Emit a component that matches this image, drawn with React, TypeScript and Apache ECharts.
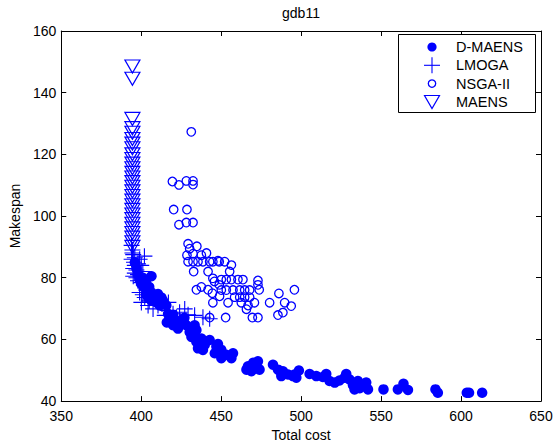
import React, { useEffect, useRef } from "react";
import * as echarts from "echarts";

const FONT = '"Liberation Sans", Arial, Helvetica, sans-serif';
const BLUE = "#0000ff";

const xTicks = [350, 400, 450, 500, 550, 600, 650];
const yTicks = [40, 60, 80, 100, 120, 140, 160];

const seriesNames = ["D-MAENS", "LMOGA", "NSGA-II", "MAENS"];

// D-MAENS: [total cost, makespan]
const dMaens: [number, number][] = [
  [396, 85], [397, 83], [398, 81], [399, 79.5], [400, 78],
  [406.4, 80.5],
  [401, 80], [403, 78.4], [402, 76.8], [404, 76.3], [406.4, 75.2], [403, 74.7],
  [408.4, 74.2], [410.5, 74.7], [412.6, 73.6], [406.4, 72.6], [409.5, 72], [413.6, 72.6],
  [415.7, 71], [411.6, 71], [404.3, 73.6], [401, 77.5], [405, 77], [407, 73],
  [416.8, 68.3], [418.9, 66.7], [416, 65.5], [422, 65.6], [425.1, 66.2], [423, 63.5],
  [428.2, 64.6], [430.3, 62.4], [433.4, 64.6], [434.5, 63], [419.9, 64.6], [420, 68], [427, 67],
  [431.4, 60.8], [434.5, 59.2], [437.6, 60.3], [435.5, 57.1], [439.7, 58.2], [442.8, 59.8],
  [438.6, 56.6], [433, 61.5],
  [447, 57.7], [450.1, 56.6], [446, 55.5], [453.2, 55], [456.4, 53.9], [457.4, 55.5],
  [450.1, 53.9], [448, 58.5],
  [466.8, 51.3], [470, 52.4], [473, 52.9], [468.9, 49.7], [474, 50.2], [465.8, 50.2], [471, 50.5],
  [482.4, 51.8], [485.5, 50.2], [488.6, 49.7], [491.8, 48.6], [494.9, 48.1], [487.6, 48.1],
  [487.6, 49.2], [495.9, 48.6], [498.6, 49.9], [497, 47.6],
  [505.3, 48.8], [509.5, 48.1], [513.6, 47.8], [515.7, 48.8], [517.8, 46.5], [521, 46],
  [524, 46.7], [527.2, 47.6], [528.2, 48.8], [530.3, 47],
  [532.4, 45.2], [535.5, 46.5], [536.6, 44.2], [539.7, 44.9], [541.8, 43.8], [540.7, 46], [533.4, 43.8],
  [551.5, 43.8], [560.5, 43.8], [564, 45.6], [566.8, 43.6], [584, 43.8], [585.5, 42.7],
  [603.6, 42.7], [605, 42.7], [613.2, 42.7],
];

// LMOGA
const lmoga: [number, number][] = [
  [394, 90.5], [394.5, 89], [395, 87.5], [394, 86], [395.5, 85], [396, 84], [395, 83],
  [397, 82.5], [396, 81.5], [398, 81], [397, 80], [399, 86], [400, 84], [398, 79], [401, 82], [402, 87],
  [394.5, 88], [396, 86.5], [398, 84.5], [395, 80.5],
  [400, 78.4], [399, 75.2], [402.2, 73.6], [400.1, 72], [404.3, 71], [407.4, 69.9], [410.5, 71],
  [403, 76], [406, 74], [417, 72], [413, 71.5], [401, 74.5], [405, 72.5],
  [416.8, 69.4], [419.9, 68.3], [424, 68.8], [427.2, 69.9], [429.3, 68], [433.4, 67.8],
  [438.6, 67.2], [442.8, 66.7], [422, 67.2], [414.7, 67.8],
];

// NSGA-II
const nsga2: [number, number][] = [
  [431.3, 127.3], [419.5, 111.2], [423.6, 110.1], [428.2, 111.4], [432.4, 111.4], [432.4, 110.2],
  [420.3, 102.1], [428.6, 102.1],
  [423.6, 97.2], [428.2, 97.9], [432.4, 97.9],
  [429.3, 91], [430.3, 89.4], [434.8, 90.2],
  [428.6, 87.3], [432.4, 87.8], [437.6, 87.3], [440.8, 88],
  [429.3, 85.2], [432.4, 85.2], [435.5, 85.2], [438.6, 85.2], [442.8, 85.2], [444.8, 85.2],
  [448.8, 85.2], [452.2, 85.2], [456.4, 84.1], [448, 85.5],
  [432.8, 82], [441.8, 82], [455.3, 82],
  [444.8, 79.8], [445.8, 78.8],
  [450.1, 79.4], [453.2, 79.4], [456.4, 79.4], [460.5, 79.4], [463.6, 79.4],
  [448.8, 77.7],
  [473, 79.1], [473, 77.7], [473.8, 76.1],
  [434.5, 76.1], [437.6, 77], [441.8, 76.1], [444.5, 75],
  [450.1, 76], [453.2, 76], [457.4, 76], [461.6, 76], [464.7, 76], [467.8, 76],
  [449, 74],
  [458.4, 73.7], [461.6, 73.7], [464.7, 73.7], [467.8, 73.7],
  [462.6, 71.9], [466.8, 71], [470.8, 71.9], [444.8, 71.9], [454.3, 71.9],
  [465.8, 69.8],
  [480.3, 71.9], [486.1, 74.9], [495.8, 76.1], [489.7, 71.9], [493.8, 70.8], [488.6, 68.7], [485.5, 67.9],
  [442.8, 67.1], [452.8, 67.1], [469.5, 67.1], [473, 67.1],
];

// MAENS
const maensCost = 394.5;
const maensSpan = [
  148.5, 144.5, 131.5, 128.5, 127, 125, 123.5, 122, 120, 118.5, 117, 115.5, 114, 112.5,
  111, 109.5, 108, 106.5, 105, 103.5, 102, 100.5, 99, 97.5, 96, 94.5, 93, 91.5, 90,
];
const maens: [number, number][] = maensSpan.map((v) => [maensCost, v]);

const axisBase = {
  type: "value",
  axisLine: { show: true, onZero: false, lineStyle: { color: "#000", width: 1 } },
  axisTick: { show: true, inside: true, length: 5, lineStyle: { color: "#000", width: 1 } },
  splitLine: { show: false },
};

const labelStyle = { color: "#000", fontSize: 14, fontFamily: FONT };

export default function App() {
  const ref = useRef<HTMLDivElement>(null);

  useEffect(() => {
    document.body.style.margin = "0";
    const chart = echarts.init(ref.current as HTMLDivElement, null, { renderer: "svg" });
    const xMin = xTicks[0];
    const xMax = xTicks[xTicks.length - 1];
    const xInt = xTicks[1] - xTicks[0];
    const yMin = yTicks[0];
    const yMax = yTicks[yTicks.length - 1];
    const yInt = yTicks[1] - yTicks[0];

    const legendRows = [47, 65.3, 83.6, 102];
    const mx = 432;
    const tx = 456;

    const option: any = {
      animation: false,
      backgroundColor: "#fff",
      title: {
        text: "gdb11",
        left: 301,
        top: 6,
        padding: 0,
        textAlign: "center",
        textStyle: { color: "#000", fontSize: 14, fontWeight: "normal", fontFamily: FONT },
      },
      grid: { left: 61, right: 15, top: 31, bottom: 40, containLabel: false },
      xAxis: [
        {
          ...axisBase,
          position: "bottom",
          min: xMin,
          max: xMax,
          interval: xInt,
          axisLabel: { ...labelStyle, margin: 8 },
          name: "Total cost",
          nameLocation: "middle",
          nameGap: 23,
          nameTextStyle: labelStyle,
        },
        {
          ...axisBase,
          position: "top",
          min: xMin,
          max: xMax,
          interval: xInt,
          axisLabel: { show: false },
        },
      ],
      yAxis: [
        {
          ...axisBase,
          position: "left",
          min: yMin,
          max: yMax,
          interval: yInt,
          axisLabel: { ...labelStyle, margin: 5 },
          name: "Makespan",
          nameLocation: "middle",
          nameGap: 38,
          nameTextStyle: labelStyle,
        },
        {
          ...axisBase,
          position: "right",
          min: yMin,
          max: yMax,
          interval: yInt,
          axisLabel: { show: false },
        },
      ],
      series: [
        {
          type: "scatter",
          name: seriesNames[0],
          data: dMaens,
          symbol: "circle",
          symbolSize: 10.5,
          itemStyle: { color: BLUE, opacity: 1 },
          silent: true,
        },
        {
          type: "scatter",
          name: seriesNames[1],
          data: lmoga,
          symbol: "path://M0,-1L0,1M-1,0L1,0",
          symbolSize: 16,
          itemStyle: { color: "rgba(0,0,0,0)", borderColor: BLUE, borderWidth: 1.1, opacity: 1 },
          silent: true,
        },
        {
          type: "scatter",
          name: seriesNames[2],
          data: nsga2,
          symbol: "circle",
          symbolSize: 8.5,
          itemStyle: { color: "rgba(0,0,0,0)", borderColor: BLUE, borderWidth: 1.3, opacity: 1 },
          silent: true,
        },
        {
          type: "scatter",
          name: seriesNames[3],
          data: maens,
          symbol: "path://M-1,-1L1,-1L0,1Z",
          symbolSize: [15, 13],
          itemStyle: { color: "rgba(0,0,0,0)", borderColor: BLUE, borderWidth: 1.2, opacity: 1 },
          silent: true,
        },
      ],
      graphic: [
        {
          type: "rect",
          silent: true,
          z: 100,
          shape: { x: 398.5, y: 34.5, width: 137, height: 78 },
          style: { fill: "#fff", stroke: "#000", lineWidth: 1 },
        },
        {
          type: "circle",
          silent: true,
          z: 101,
          shape: { cx: mx, cy: legendRows[0], r: 4.6 },
          style: { fill: BLUE },
        },
        {
          type: "line",
          silent: true,
          z: 101,
          shape: { x1: mx - 8, y1: legendRows[1], x2: mx + 8, y2: legendRows[1] },
          style: { stroke: BLUE, lineWidth: 1.1 },
        },
        {
          type: "line",
          silent: true,
          z: 101,
          shape: { x1: mx, y1: legendRows[1] - 8, x2: mx, y2: legendRows[1] + 8 },
          style: { stroke: BLUE, lineWidth: 1.1 },
        },
        {
          type: "circle",
          silent: true,
          z: 101,
          shape: { cx: mx, cy: legendRows[2], r: 3.7 },
          style: { fill: "none", stroke: BLUE, lineWidth: 1.3 },
        },
        {
          type: "polygon",
          silent: true,
          z: 101,
          shape: {
            points: [
              [mx - 7.5, legendRows[3] - 6.5],
              [mx + 7.5, legendRows[3] - 6.5],
              [mx, legendRows[3] + 6.5],
            ],
          },
          style: { fill: "none", stroke: BLUE, lineWidth: 1.2 },
        },
        ...seriesNames.map((name, i) => ({
          type: "text",
          silent: true,
          z: 101,
          x: tx,
          y: legendRows[i],
          style: {
            text: name,
            fill: "#000",
            fontSize: 14.5,
            fontFamily: FONT,
            align: "left",
            verticalAlign: "middle",
          },
        })),
      ],
    };

    chart.setOption(option);
    return () => {
      chart.dispose();
    };
  }, []);

  return <div ref={ref} style={{ width: 556, height: 447 }} />;
}
